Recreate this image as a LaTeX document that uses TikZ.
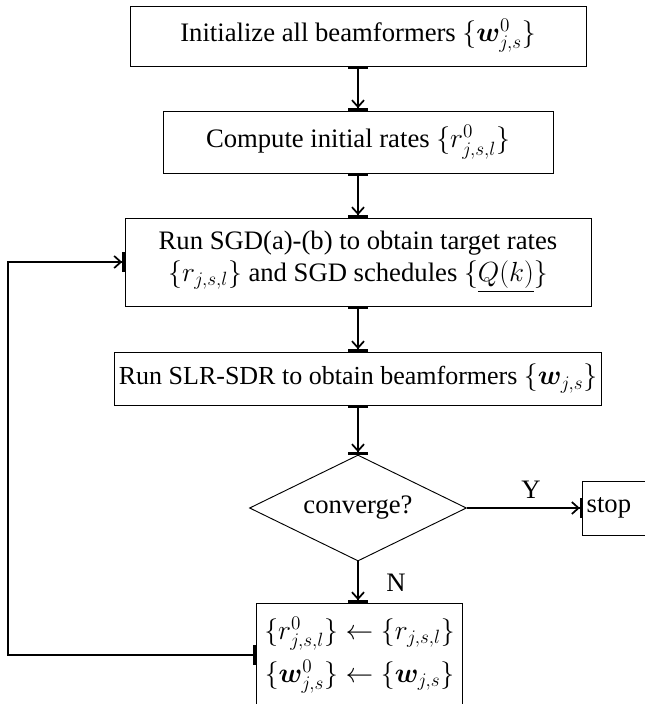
\documentclass[tikz,border=0pt]{standalone}
\usepackage{amsmath}
\usepackage{bm}
\usepackage{fontspec}
\setmainfont{Liberation Serif}
\usetikzlibrary{shapes.geometric,arrows.meta}

\tikzset{
  stepbox/.style={draw, line width=0.7pt, inner sep=0.75pt, align=center},
  link/.style={line width=1.3pt, -{Straight Barb[length=5pt,width=9pt,line width=1.3pt]Bar[width=15pt,line width=1.8pt]}},
  linkbar/.style={link, {Bar[width=15pt,line width=1.8pt]}-{Straight Barb[length=5pt,width=9pt,line width=1.3pt]Bar[width=15pt,line width=1.8pt]}}
}

\begin{document}
\begin{tikzpicture}[x=0.75pt,y=0.75pt,yscale=-1,xscale=1,font=\fontsize{20}{24}\selectfont]
\useasboundingbox (0,0) rectangle (645,704);

%Shape: Rectangle [id:init]
\node [stepbox, minimum width=342pt, minimum height=45pt] (init) at (358,36) {Initialize all beamformers $\{\boldsymbol{w}^0_{j,s}\}$};
%Shape: Rectangle [id:rates0]
\node [stepbox, minimum width=292.5pt, minimum height=46.5pt] (rates0) at (358,142) {Compute initial rates $\{r^0_{j,s,l}\}$};
%Shape: Rectangle [id:sgd]
\node [stepbox, minimum width=349.5pt, minimum height=66pt] (sgd) at (358,262) {Run SGD(a)-(b) to obtain target rates\\ $\{r_{j,s,l}\}$ and SGD schedules $\{\underline{Q(k)}\}$};
%Shape: Rectangle [id:slr]
\node [stepbox, minimum width=365pt, minimum height=39.75pt, font=\fontsize{19.5}{23}\selectfont] (slr) at (358,378.5) {Run SLR-SDR to obtain beamformers $\{\boldsymbol{w}_{j,s}\}$};
%Shape: Diamond [id:conv]
\node [stepbox, diamond, aspect=2.05, minimum width=162.75pt, minimum height=79.5pt] (conv) at (358,508) {converge?};
%Shape: Rectangle [id:stop]
\node [stepbox, minimum height=40.5pt, inner xsep=3pt, text width=44pt, align=left] (stop) at (616,508) {stop};
%Shape: Rectangle [id:upd]
\node [stepbox, minimum width=155pt, minimum height=78pt] (upd) at (359.5,655) {$\{r^0_{j,s,l}\}\leftarrow\{r_{j,s,l}\}$\\[6pt] $\{\boldsymbol{w}^0_{j,s}\}\leftarrow\{\boldsymbol{w}_{j,s}\}$};

\coordinate (loop) at (8,0);

%Straight Lines
\draw [linkbar] (init.south -| conv) -- (rates0.north -| conv);
\draw [linkbar] (rates0.south -| conv) -- (sgd.north -| conv);
\draw [linkbar] (sgd.south -| conv) -- (slr.north -| conv);
\draw [linkbar] (slr.south -| conv) -- (conv.north);
\draw [link] (conv.south) -- (upd.north -| conv);
\draw [link] (conv.east) -- (stop.west);
\draw [linkbar] (upd.west) -| (loop |- sgd.west) -- (sgd.west);

% Text Node
\node (ylab) at (531,490) {Y};
% Text Node
\node (nlab) at (396,583) {N};
\end{tikzpicture}
\end{document}
